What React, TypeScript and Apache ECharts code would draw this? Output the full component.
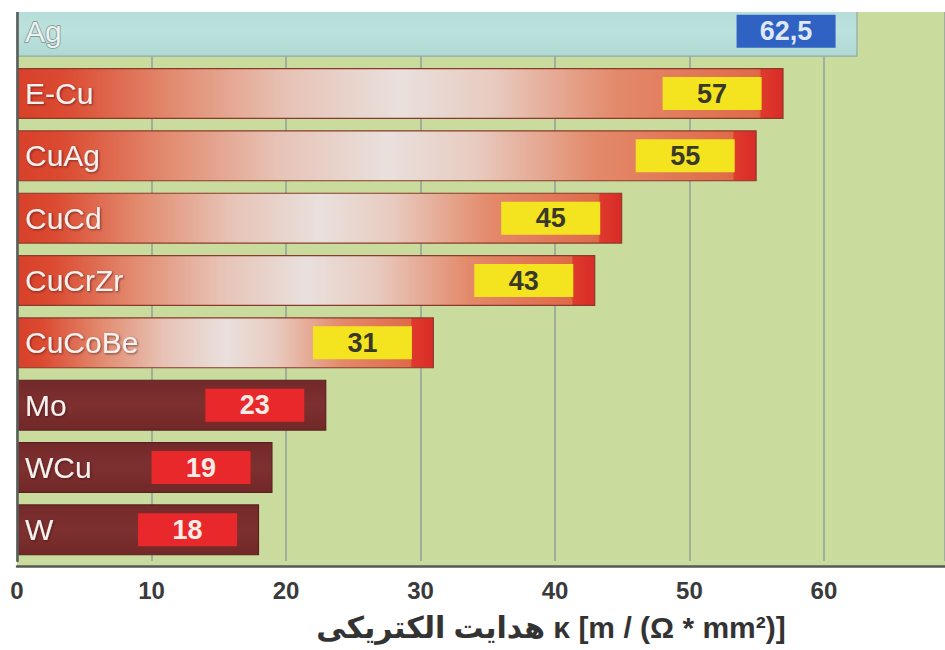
import React, { useEffect, useRef } from 'react';
import * as echarts from 'echarts';

const categories = ['Ag', 'E-Cu', 'CuAg', 'CuCd', 'CuCrZr', 'CuCoBe', 'Mo', 'WCu', 'W'];
const values = [62.5, 57, 55, 45, 43, 31, 23, 19, 18];
const valueLabels = ['62,5', '57', '55', '45', '43', '31', '23', '19', '18'];
const groups = ['silver', 'copper', 'copper', 'copper', 'copper', 'copper', 'refractory', 'refractory', 'refractory'];
const xTicks = [0, 10, 20, 30, 40, 50, 60];
const axisTitle = 'هدایت الکتریکی κ [m / (Ω * mm²)]';

const GREEN = '#c9db9d';
const FONT = '"Liberation Sans", Arial, sans-serif';

function barColor(group: string, value: number) {
  if (group === 'silver') {
    return new echarts.graphic.LinearGradient(0, 0, 0, 1, [
      { offset: 0, color: '#b3dcd8' },
      { offset: 0.5, color: '#bde2dd' },
      { offset: 1, color: '#afd8d3' },
    ]);
  }
  if (group === 'copper') {
    const f = 1.6 / value;
    return new echarts.graphic.LinearGradient(0, 0, 1, 0, [
      { offset: 0, color: '#d8402a' },
      { offset: 0.06, color: '#db4a31' },
      { offset: 0.2, color: '#e28a6e' },
      { offset: 0.35, color: '#e7c2b5' },
      { offset: 0.5, color: '#e9e0dd' },
      { offset: 0.62, color: '#e8cbc0' },
      { offset: 0.78, color: '#e38a6b' },
      { offset: 1 - f - 0.003, color: '#df6a48' },
      { offset: 1 - f, color: '#de3a2c' },
      { offset: 1, color: '#d92b27' },
    ]);
  }
  return new echarts.graphic.LinearGradient(0, 0, 0, 1, [
    { offset: 0, color: '#74292a' },
    { offset: 0.5, color: '#7d302f' },
    { offset: 1, color: '#722828' },
  ]);
}

const boxStyles: Record<string, { bg: string; fg: string }> = {
  silver: { bg: '#2f62c2', fg: '#dfe8f6' },
  copper: { bg: '#f4e41f', fg: '#3a3828' },
  refractory: { bg: '#e8282b', fg: '#fbece6' },
};

const borderColors: Record<string, string> = {
  silver: '#93aaa6',
  copper: '#8a3a2c',
  refractory: '#5a2020',
};

export default function App() {
  const ref = useRef<HTMLDivElement>(null);

  useEffect(() => {
    if (!ref.current) return;
    const chart = echarts.init(ref.current, undefined, { renderer: 'svg' });

    const yData = categories.map((c, i) => ({
      value: c,
      textStyle:
        groups[i] === 'silver'
          ? { color: '#e9f3f1', textBorderColor: '#7f8f8d', textBorderWidth: 1.5 }
          : {
              color: '#f6f0ee',
              textShadowColor: 'rgba(60,20,10,0.6)',
              textShadowBlur: 2,
              textShadowOffsetX: 1,
              textShadowOffsetY: 1,
            },
    }));

    const seriesData = values.map((v, i) => {
      const g = groups[i];
      const box = boxStyles[g];
      return {
        value: v,
        itemStyle: {
          color: barColor(g, v),
          borderColor: borderColors[g],
          borderWidth: 1.2,
        },
        label: {
          show: true,
          position: 'insideRight',
          distance: 22,
          formatter: '{v|' + valueLabels[i] + '}',
          rich: {
            v: {
              width: 99,
              height: 33,
              lineHeight: 33,
              align: 'center',
              backgroundColor: box.bg,
              color: box.fg,
              fontSize: 27,
              fontWeight: 'bold',
              fontFamily: FONT,
            },
          },
        },
      };
    });

    chart.setOption({
      animation: false,
      grid: {
        left: 17,
        right: 0,
        top: -1,
        bottom: 89,
        show: true,
        backgroundColor: GREEN,
        borderWidth: 0,
      },
      xAxis: {
        type: 'value',
        min: 0,
        max: 69,
        interval: 10,
        offset: 5,
        axisLine: { show: true, lineStyle: { color: '#555a55', width: 2.5 } },
        axisTick: { show: false },
        splitLine: { show: true, lineStyle: { color: '#8fa19c', width: 1.5 } },
        axisLabel: {
          show: true,
          showMaxLabel: false,
          fontSize: 24,
          fontWeight: 'bold',
          fontFamily: FONT,
          color: '#3a3a3a',
          margin: 12,
          formatter: (v: number) => (xTicks.includes(v) ? String(v) : ''),
        },
      },
      yAxis: {
        type: 'category',
        data: yData,
        inverse: true,
        z: 10,
        axisLine: { show: true, lineStyle: { color: '#5a5e5a', width: 2.5 } },
        axisTick: { show: false },
        splitLine: { show: false },
        axisLabel: {
          inside: true,
          margin: 8,
          fontSize: 30,
          fontFamily: FONT,
          color: '#ffffff',
        },
      },
      series: [
        {
          type: 'bar',
          data: seriesData,
          barWidth: 51,
          z: 2,
        },
      ],
      graphic: [
        {
          type: 'rect',
          z: -1,
          shape: { x: 17, y: 560, width: 928, height: 6 },
          style: { fill: GREEN },
        },
        {
          type: 'rect',
          z: 100,
          shape: { x: 0, y: 0, width: 945, height: 12 },
          style: { fill: '#ffffff' },
        },
        {
          type: 'text',
          z: 100,
          x: 551,
          y: 627,
          style: {
            text: axisTitle,
            fill: '#333333',
            fontSize: 30,
            fontWeight: 'bold',
            fontFamily: '"Liberation Sans", "DejaVu Sans", sans-serif',
            align: 'center',
            verticalAlign: 'middle',
          },
        },
      ],
    });

    return () => chart.dispose();
  }, []);

  return (
    <div
      ref={ref}
      style={{ position: 'fixed', left: 0, top: 0, width: 945, height: 650, background: '#ffffff' }}
    />
  );
}
